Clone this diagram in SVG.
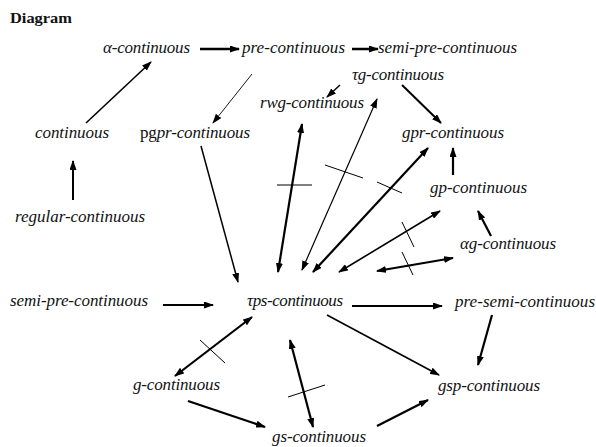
<svg xmlns="http://www.w3.org/2000/svg" width="596" height="447" viewBox="0 0 596 447">
<style>
.lbl{font-family:"Liberation Serif","Times New Roman",serif;font-style:italic;font-size:17px;fill:#111;}
.up{font-style:normal;}
.ttl{font-family:"Liberation Serif","Times New Roman",serif;font-weight:bold;font-size:15px;fill:#111;}
.c line{stroke:#000;fill:none;}
.x line{stroke:#000;stroke-width:1;}
.a{marker-end:url(#h);}
.d{marker-start:url(#h);marker-end:url(#h);}
</style>
<defs>
<marker id="h" viewBox="0 0 10 7" refX="9" refY="3.5" markerWidth="10" markerHeight="7" markerUnits="userSpaceOnUse" orient="auto-start-reverse">
<path d="M0,0 L10,3.5 L0,7 z" fill="#000"/>
</marker>
</defs>
<rect width="596" height="447" fill="#fff"/>
<text class="ttl" x="10" y="23" textLength="62" lengthAdjust="spacingAndGlyphs">Diagram</text>

<g id="n-alpha"><text class="lbl" x="103" y="53" textLength="87">α-continuous</text></g>
<g id="n-pre"><text class="lbl" x="242" y="53" textLength="103">pre-continuous</text></g>
<g id="n-semipre-top"><text class="lbl" x="378" y="53" textLength="139">semi-pre-continuous</text></g>
<g id="n-taug"><text class="lbl" x="352" y="80" textLength="92">τg-continuous</text></g>
<g id="n-rwg"><text class="lbl" x="260" y="108" textLength="104">rwg-continuous</text></g>
<g id="n-gpr"><text class="lbl" x="402" y="138" textLength="102">gpr-continuous</text></g>
<g id="n-cont"><text class="lbl" x="35" y="138" textLength="74">continuous</text></g>
<g id="n-pgpr"><text class="lbl" x="140" y="138" textLength="110"><tspan class="up">pg</tspan>pr-continuous</text></g>
<g id="n-gp"><text class="lbl" x="430" y="193" textLength="97">gp-continuous</text></g>
<g id="n-alphag"><text class="lbl" x="460" y="249" textLength="96">αg-continuous</text></g>
<g id="n-regular"><text class="lbl" x="15" y="222" textLength="130">regular-continuous</text></g>
<g id="n-semipre-left"><text class="lbl" x="10" y="306" textLength="138">semi-pre-continuous</text></g>
<g id="n-taups"><text class="lbl" x="247" y="306" textLength="96">τps-continuous</text></g>
<g id="n-presemi"><text class="lbl" x="455" y="307" textLength="140">pre-semi-continuous</text></g>
<g id="n-g"><text class="lbl" x="133" y="390" textLength="87">g-continuous</text></g>
<g id="n-gsp"><text class="lbl" x="438" y="391" textLength="102">gsp-continuous</text></g>
<g id="n-gs"><text class="lbl" x="272" y="442" textLength="94">gs-continuous</text></g>

<g id="connectors" class="c">
<line class="a" x1="200" y1="49" x2="239" y2="49" stroke-width="2.5"/>
<line class="a" x1="352" y1="49" x2="378" y2="49" stroke-width="2.5"/>
<line class="a" x1="86" y1="123" x2="151" y2="62" stroke-width="1.6"/>
<line class="a" x1="73" y1="200" x2="73" y2="161" stroke-width="2"/>
<line class="a" x1="252" y1="74" x2="213" y2="123" stroke-width="0.9"/>
<line class="a" x1="340" y1="85" x2="327" y2="97" stroke-width="1.5"/>
<line class="a" x1="402" y1="85" x2="441" y2="123" stroke-width="2"/>
<line class="a" x1="453" y1="175" x2="453" y2="148" stroke-width="2.2"/>
<line class="a" x1="491" y1="236" x2="478" y2="211" stroke-width="2.2"/>
<line class="a" x1="201" y1="146" x2="238" y2="282" stroke-width="1.5"/>
<line class="d" x1="302" y1="124" x2="278" y2="272" stroke-width="2.2"/>
<line class="d" x1="377" y1="99" x2="302" y2="270" stroke-width="1.2"/>
<line class="d" x1="428" y1="148" x2="313" y2="272" stroke-width="2.2"/>
<line class="d" x1="440" y1="211" x2="339" y2="272" stroke-width="1.6"/>
<line class="d" x1="377" y1="271" x2="453" y2="258" stroke-width="2.2"/>
<line class="a" x1="163" y1="305" x2="213" y2="305" stroke-width="2.2"/>
<line class="a" x1="352" y1="306" x2="442" y2="306" stroke-width="2.2"/>
<line class="a" x1="327" y1="315" x2="439" y2="375" stroke-width="1.6"/>
<line class="a" x1="492" y1="315" x2="478" y2="365" stroke-width="2.2"/>
<line class="d" x1="252" y1="317" x2="175" y2="376" stroke-width="2.2"/>
<line class="a" x1="188" y1="401" x2="265" y2="427" stroke-width="2.2"/>
<line class="d" x1="290" y1="340" x2="313" y2="427" stroke-width="2.2"/>
<line class="a" x1="377" y1="426" x2="428" y2="400" stroke-width="2.2"/>
<g class="x">
<line x1="277" y1="185" x2="312" y2="185"/>
<line x1="325" y1="165" x2="363" y2="178"/>
<line x1="377" y1="182" x2="402" y2="193"/>
<line x1="402" y1="222" x2="414" y2="247"/>
<line x1="402" y1="252" x2="413" y2="275"/>
<line x1="200" y1="340" x2="225" y2="363"/>
<line x1="288" y1="397" x2="325" y2="385"/>
</g>
</g>
</svg>
